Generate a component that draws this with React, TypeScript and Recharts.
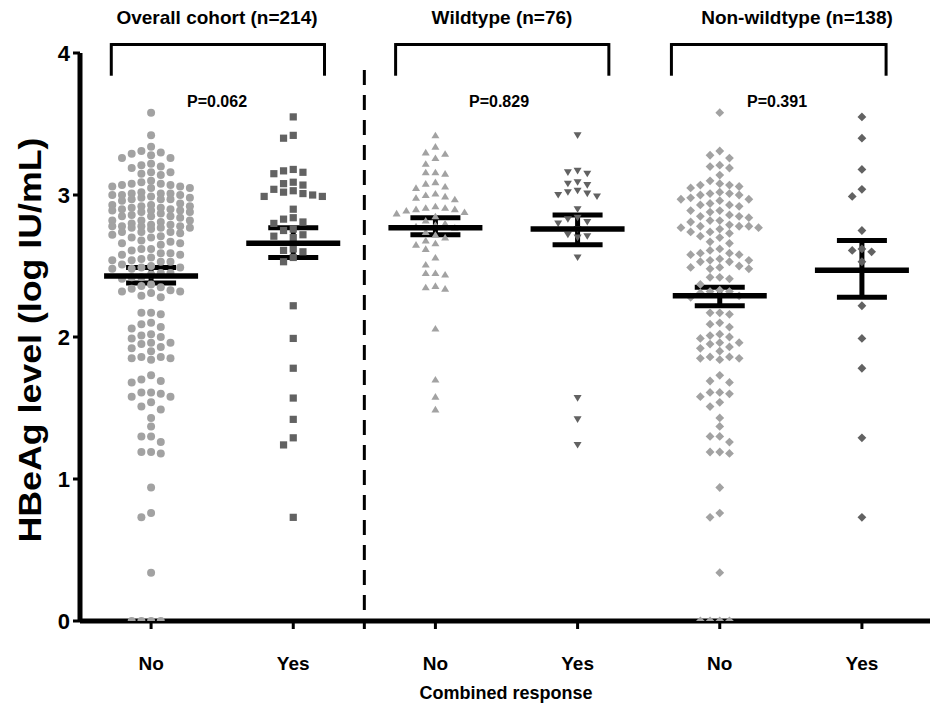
import React from "react";
import { ScatterChart, Scatter, XAxis, YAxis, ReferenceLine, ErrorBar, CartesianGrid } from "recharts";

const groupLabels = ["No", "Yes", "No", "Yes", "No", "Yes"];
const panelTitles = ["Overall cohort (n=214)", "Wildtype (n=76)", "Non-wildtype (n=138)"];
const pValues = ["P=0.062", "P=0.829", "P=0.391"];
const yTicks = [0, 1, 2, 3, 4];

// HBeAg level (log IU/mL) per patient
const wildtypeNo = [
  3.42, 3.34, 3.3, 3.29, 3.26, 3.22, 3.16, 3.16, 3.15, 3.09, 3.08, 3.06, 3.05, 3.01, 3.0, 2.99, 2.98,
  2.97, 2.92, 2.91, 2.91, 2.9, 2.9, 2.89, 2.88, 2.87, 2.85, 2.82, 2.8, 2.79, 2.78, 2.77, 2.74, 2.72,
  2.7, 2.68, 2.66, 2.65, 2.62, 2.56, 2.51, 2.45, 2.45, 2.44, 2.36, 2.35, 2.34, 2.06, 1.7, 1.58, 1.49,
];
const wildtypeYes = [
  3.42, 3.17, 3.16, 3.15, 3.09, 3.08, 3.07, 3.03, 3.02, 3.01, 3.0, 2.99, 2.9, 2.84, 2.83, 2.81, 2.8,
  2.76, 2.72, 2.71, 2.7, 2.56, 1.57, 1.42, 1.24,
];
const nonWildtypeNo = [
  3.58, 3.31, 3.28, 3.26, 3.21, 3.2, 3.19, 3.14, 3.1, 3.08, 3.07, 3.07, 3.06, 3.05, 3.02, 3.01, 3.01,
  3.0, 3.0, 2.98, 2.97, 2.97, 2.96, 2.94, 2.93, 2.93, 2.92, 2.89, 2.89, 2.88, 2.86, 2.85, 2.85, 2.84,
  2.82, 2.82, 2.81, 2.79, 2.78, 2.78, 2.78, 2.77, 2.77, 2.76, 2.74, 2.74, 2.73, 2.71, 2.7, 2.67, 2.66,
  2.62, 2.61, 2.59, 2.59, 2.58, 2.58, 2.55, 2.54, 2.54, 2.53, 2.53, 2.5, 2.49, 2.49, 2.48, 2.48, 2.42,
  2.42, 2.41, 2.37, 2.33, 2.32, 2.32, 2.31, 2.29, 2.28, 2.17, 2.17, 2.16, 2.1, 2.09, 2.07, 2.02, 2.01,
  2.0, 1.99, 1.96, 1.96, 1.95, 1.93, 1.92, 1.9, 1.86, 1.86, 1.85, 1.85, 1.84, 1.73, 1.69, 1.68, 1.61,
  1.61, 1.6, 1.58, 1.54, 1.51, 1.43, 1.37, 1.3, 1.3, 1.26, 1.19, 1.19, 1.18, 0.94, 0.76, 0.73, 0.34,
  0, 0, 0, 0,
];
const nonWildtypeYes = [
  3.55, 3.4, 3.18, 3.04, 2.99, 2.75, 2.62, 2.61, 2.6, 2.53, 2.22, 1.99, 1.78, 1.29, 0.73,
];

// mean and SEM bounds per group
const groupMeans = [2.43, 2.66, 2.77, 2.76, 2.29, 2.47];
const semLower = [2.38, 2.56, 2.72, 2.65, 2.22, 2.28];
const semUpper = [2.49, 2.77, 2.84, 2.86, 2.35, 2.68];

const FONT = "Arial, 'Liberation Sans', Helvetica, sans-serif";
const LIGHT = "#a2a2a2";
const DARK = "#626262";

const PX_PER_UNIT = 142;
const SLOT = 9.7;
const GAP = 8;
const SLOT_ORDER = [0, -1, 1, -2, 2, -3, 3, -4, 4];

// Prism-like column swarm, at most 9 columns wide; overflow overlaps where it fits best
function swarmOffsets(values: number[]): number[] {
  const order = values.map((v, i) => ({ v, i })).sort((a, b) => b.v - a.v);
  const cols = new Map<number, number[]>();
  const offsets = new Array(values.length).fill(0);
  for (const { v, i } of order) {
    const py = v * PX_PER_UNIT;
    let best = 0;
    let bestDist = -1;
    for (const s of SLOT_ORDER) {
      const ys = cols.get(s) ?? [];
      const d = ys.length ? Math.min(...ys.map((q) => Math.abs(q - py))) : Infinity;
      if (d >= GAP) {
        best = s;
        break;
      }
      if (d > bestDist) {
        bestDist = d;
        best = s;
      }
    }
    cols.set(best, [...(cols.get(best) ?? []), py]);
    offsets[i] = best * SLOT;
  }
  return offsets;
}

const groups = [
  { values: [...wildtypeNo, ...nonWildtypeNo], kind: "circle", fill: LIGHT },
  { values: [...wildtypeYes, ...nonWildtypeYes], kind: "square", fill: DARK },
  { values: wildtypeNo, kind: "triUp", fill: LIGHT },
  { values: wildtypeYes, kind: "triDown", fill: DARK },
  { values: nonWildtypeNo, kind: "diamond", fill: LIGHT },
  { values: nonWildtypeYes, kind: "diamond", fill: DARK },
];

const groupData = groups.map((g, gi) => {
  const off = swarmOffsets(g.values);
  return g.values.map((y, j) => ({ x: gi, y, dx: off[j] }));
});

const summaryData = groupMeans.map((m, i) => ({
  x: i,
  y: m,
  err: [m - semLower[i], semUpper[i] - m],
}));

const makeDot = (kind: string, fill: string) => (props: any) => {
  const { cx, cy, payload } = props;
  if (cx == null || cy == null) return <g />;
  const x = cx + (payload?.dx ?? 0);
  if (kind === "circle") return <circle cx={x} cy={cy} r={4} fill={fill} />;
  if (kind === "square") return <rect x={x - 3.6} y={cy - 3.6} width={7.2} height={7.2} fill={fill} />;
  if (kind === "triUp")
    return <polygon points={`${x},${cy - 3.6} ${x - 4},${cy + 3} ${x + 4},${cy + 3}`} fill={fill} />;
  if (kind === "triDown")
    return <polygon points={`${x},${cy + 3.6} ${x - 4},${cy - 3} ${x + 4},${cy - 3}`} fill={fill} />;
  return <polygon points={`${x},${cy - 4.4} ${x + 4.4},${cy} ${x},${cy + 4.4} ${x - 4.4},${cy}`} fill={fill} />;
};

const MeanLine = (props: any) => {
  const { cx, cy } = props;
  if (cx == null || cy == null) return <g />;
  return <line x1={cx - 47} x2={cx + 47} y1={cy} y2={cy} stroke="#000" strokeWidth={5.5} />;
};

const bracketSpans = [
  [-0.28, 1.22],
  [1.72, 3.22],
  [3.66, 5.17],
];
const BRACKET_TOP = 4.06;
const BRACKET_FOOT = 3.84;

const titleX = [217, 502, 797];
const pX = [217, 499, 777];

export default function App() {
  return (
    <div style={{ position: "absolute", left: 0, top: 0, width: 930, height: 705, overflow: "hidden", background: "#fff" }}>
      <ScatterChart width={935} height={705} margin={{ top: 53, right: 2, bottom: 0, left: 0 }}>
        {/* x-axis baseline drawn as a grid line so the zero points sit on top of it */}
        <CartesianGrid vertical={false} horizontalValues={[0]} stroke="#000" strokeWidth={5} />
        <XAxis
          type="number"
          dataKey="x"
          domain={[-0.5, 5.5]}
          ticks={[0, 1, 1.5, 2, 3, 4, 5]}
          tickFormatter={(v: number) => (Number.isInteger(v) ? groupLabels[v] : "")}
          height={84}
          tick={{ fill: "#000", fontSize: 19, fontWeight: "bold", fontFamily: FONT }}
          tickSize={8}
          tickMargin={28}
          tickLine={{ stroke: "#000", strokeWidth: 3 }}
          axisLine={false}
          allowDataOverflow
        />
        <YAxis
          type="number"
          dataKey="y"
          domain={[0, 4]}
          ticks={yTicks}
          width={80}
          tick={{ fill: "#000", fontSize: 22, fontWeight: "bold", fontFamily: FONT }}
          tickSize={7}
          tickMargin={3}
          tickLine={{ stroke: "#000", strokeWidth: 3 }}
          axisLine={{ stroke: "#000", strokeWidth: 5 }}
          allowDataOverflow
        />
        {bracketSpans.map(([a, b], i) => (
          <ReferenceLine
            key={`top${i}`}
            segment={[{ x: a, y: BRACKET_TOP }, { x: b, y: BRACKET_TOP }]}
            stroke="#000"
            strokeWidth={3}
            ifOverflow="visible"
          />
        ))}
        {bracketSpans.flatMap(([a, b], i) =>
          [a, b].map((xv, j) => (
            <ReferenceLine
              key={`leg${i}-${j}`}
              segment={[{ x: xv, y: BRACKET_TOP + 0.01 }, { x: xv, y: BRACKET_FOOT }]}
              stroke="#000"
              strokeWidth={3}
              ifOverflow="visible"
            />
          ))
        )}
        <ReferenceLine
          segment={[{ x: 1.5, y: 3.88 }, { x: 1.5, y: 0 }]}
          stroke="#000"
          strokeWidth={3}
          strokeDasharray="15 10"
          ifOverflow="visible"
        />
        {groups.map((g, gi) => (
          <Scatter
            key={gi}
            data={groupData[gi]}
            shape={makeDot(g.kind, g.fill)}
            isAnimationActive={false}
          />
        ))}
        <Scatter data={summaryData} shape={MeanLine} isAnimationActive={false}>
          <ErrorBar dataKey="err" direction="y" width={25} strokeWidth={5} stroke="#000" />
        </Scatter>
      </ScatterChart>
      <svg
        width={930}
        height={705}
        style={{ position: "absolute", left: 0, top: 0, pointerEvents: "none" }}
        fontFamily={FONT}
        fontWeight="bold"
      >
        {panelTitles.map((t, i) => (
          <text key={t} x={titleX[i]} y={24} textAnchor="middle" fontSize={19} fill="#000">
            {t}
          </text>
        ))}
        {pValues.map((t, i) => (
          <text key={t} x={pX[i]} y={107} textAnchor="middle" fontSize={16} fill="#000">
            {t}
          </text>
        ))}
        <text x={506} y={699} textAnchor="middle" fontSize={18} fill="#000">
          Combined response
        </text>
        <text
          x={41}
          y={340}
          textAnchor="middle"
          fontSize={31}
          textLength={405}
          lengthAdjust="spacingAndGlyphs"
          fill="#000"
          transform="rotate(-90 41 340)"
        >
          HBeAg level (log IU/mL)
        </text>
      </svg>
    </div>
  );
}
